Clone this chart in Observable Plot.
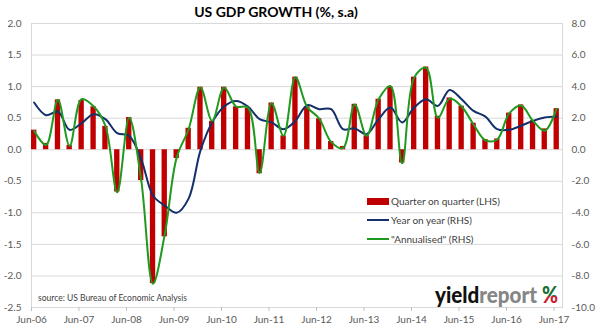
<!DOCTYPE html>
<html><head><meta charset="utf-8">
<script src="https://cdn.jsdelivr.net/npm/d3@7"></script>
<script src="https://cdn.jsdelivr.net/npm/@observablehq/plot@0.6"></script>
<style>
html,body{margin:0;padding:0;background:#fff;}
</style>
</head><body><div id="chart"></div>
<script>
const quarters = ["2006-06","2006-09","2006-12","2007-03","2007-06","2007-09","2007-12","2008-03","2008-06","2008-09",
  "2008-12","2009-03","2009-06","2009-09","2009-12","2010-03","2010-06","2010-09","2010-12","2011-03",
  "2011-06","2011-09","2011-12","2012-03","2012-06","2012-09","2012-12","2013-03","2013-06","2013-09",
  "2013-12","2014-03","2014-06","2014-09","2014-12","2015-03","2015-06","2015-09","2015-12","2016-03",
  "2016-06","2016-09","2016-12","2017-03","2017-06"];
const qoq = [0.31,0.10,0.79,0.07,0.78,0.68,0.37,-0.67,0.51,-0.49,
  -2.12,-1.38,-0.14,0.34,0.99,0.45,0.99,0.68,0.66,-0.38,
  0.74,0.22,1.15,0.68,0.49,0.13,0.05,0.72,0.22,0.80,
  0.99,-0.21,1.15,1.31,0.53,0.82,0.69,0.42,0.16,0.17,
  0.58,0.71,0.46,0.33,0.65];
const yoy = [2.99,2.19,2.42,1.26,1.68,2.25,1.94,1.05,0.88,-0.59,
  -2.9,-3.54,-4.0,-3.1,-0.06,1.73,2.74,3.09,2.74,1.94,
  1.73,1.3,1.83,2.82,2.57,2.57,1.3,1.35,0.99,1.94,
  2.67,1.73,2.67,3.2,2.78,3.79,3.2,2.46,2.1,1.3,
  1.26,1.52,1.83,2.04,2.1];
const annualised = [1.2,0.3,3.16,0.25,3.2,2.75,1.52,-2.7,2.02,-1.9,
  -8.5,-5.4,-0.5,1.3,3.94,1.83,3.94,2.74,2.67,-1.47,
  2.95,0.88,4.6,2.7,1.98,0.5,0.1,2.86,0.88,3.2,
  4.04,-0.86,4.57,5.2,2.02,3.24,2.74,1.6,0.6,0.65,
  2.3,2.8,1.83,1.2,2.6];
const leftTicks = [-2.5,-2.0,-1.5,-1.0,-0.5,0.0,0.5,1.0,1.5,2.0];
const rightFactor = 4; // RHS scale = 4 x LHS scale (8.0 .. -10.0)
const xTickLabels = ["Jun-06","Jun-07","Jun-08","Jun-09","Jun-10","Jun-11","Jun-12","Jun-13","Jun-14","Jun-15","Jun-16","Jun-17"];
const legendLabels = ["Quarter on quarter (LHS)","Year on year (RHS)","\"Annualised\" (RHS)"];
const titleText = "US GDP GROWTH (%, s.a)";
const sourceText = "source: US Bureau of Economic Analysis";

const colBar = "#c00000", colYoy = "#13306a", colAnn = "#1f9a1f";

const parseQ = d3.utcParse("%Y-%m");
const parseTick = d3.utcParse("%b-%y");
const data = quarters.map((q, i) => ({date: parseQ(q), qoq: qoq[i], yoy: yoy[i], ann: annualised[i]}));
const xTicks = xTickLabels.map(parseTick);
const mid = d => d3.utcDay.offset(d.date, 20);

const chart = Plot.plot({
  width: 602, height: 329,
  marginLeft: 31, marginRight: 40, marginTop: 23, marginBottom: 22,
  style: {fontFamily: "Lato, 'Open Sans', sans-serif", fontSize: "10px", color: "#595959", background: "#fff", overflow: "visible"},
  x: {type: "utc", domain: [parseQ("2006-06"), d3.utcDay.offset(parseQ("2017-08"), 4)]},
  y: {domain: [-2.5, 2.0]},
  marks: [
    Plot.ruleY(leftTicks, {stroke: "#d9d9d9", strokeWidth: 1}),
    Plot.frame({stroke: "#d9d9d9"}),
    Plot.rect(data, {x1: "date", x2: d => d3.utcDay.offset(d.date, 41), y1: 0, y2: "qoq", fill: colBar}),
    Plot.line(data, {x: mid, y: d => d.yoy / rightFactor, stroke: colYoy, strokeWidth: 2, curve: "catmull-rom"}),
    Plot.line(data, {x: mid, y: d => d.ann / rightFactor, stroke: colAnn, strokeWidth: 2, curve: "catmull-rom"}),
    Plot.axisY(leftTicks, {anchor: "left", label: null, tickSize: 0, tickPadding: 10, tickFormat: d => d.toFixed(1)}),
    Plot.axisY(leftTicks, {anchor: "right", label: null, tickSize: 0, tickPadding: 9, tickFormat: d => (d * rightFactor).toFixed(1)}),
    Plot.axisX(xTicks, {anchor: "bottom", label: null, tickSize: 4, tickPadding: 4, stroke: "#bfbfbf", tickFormat: d3.utcFormat("%b-%y")})
  ]
});
document.getElementById("chart").appendChild(chart);

const svg = d3.select(chart);
// title
svg.append("text").attr("x", 276).attr("y", 17).attr("text-anchor", "middle")
  .attr("fill", "#000").style("font", "bold 14px Lato, sans-serif").text(titleText);
// source
svg.append("text").attr("x", 38).attr("y", 301).attr("text-anchor", "start").attr("fill", "#404040")
  .style("font", "8.5px Lato, sans-serif").text(sourceText);
// legend
const lg = svg.append("g").attr("text-anchor", "start").style("font", "10px Lato, sans-serif").attr("fill", "#404040");
lg.append("rect").attr("x", 367).attr("y", 198).attr("width", 22).attr("height", 7).attr("fill", colBar);
lg.append("line").attr("x1", 367).attr("x2", 389).attr("y1", 220).attr("y2", 220).attr("stroke", colYoy).attr("stroke-width", 2);
lg.append("line").attr("x1", 367).attr("x2", 389).attr("y1", 239).attr("y2", 239).attr("stroke", colAnn).attr("stroke-width", 2);
[205, 223.5, 242.5].forEach((y, i) => lg.append("text").attr("x", 391).attr("y", y).text(legendLabels[i]));
// logo
const defs = svg.append("defs");
const gr = defs.append("linearGradient").attr("id", "pct").attr("x1", 0).attr("x2", 0).attr("y1", 0).attr("y2", 1);
gr.append("stop").attr("offset", "0%").attr("stop-color", "#1e6b35");
gr.append("stop").attr("offset", "55%").attr("stop-color", "#1e6b35");
gr.append("stop").attr("offset", "55%").attr("stop-color", "#c8202c");
gr.append("stop").attr("offset", "100%").attr("stop-color", "#c8202c");
const logo = svg.append("text").attr("x", 435).attr("y", 303).attr("text-anchor", "start")
  .attr("textLength", 102).attr("lengthAdjust", "spacingAndGlyphs")
  .style("font", "900 22px Lato, sans-serif");
logo.append("tspan").attr("fill", "#111").text("yield");
logo.append("tspan").attr("fill", "#858585").text("report");
svg.append("text").attr("x", 542).attr("y", 303).attr("text-anchor", "start").attr("textLength", 16).attr("lengthAdjust", "spacingAndGlyphs")
  .style("font", "900 22px Lato, sans-serif").attr("fill", "url(#pct)").text("%");
</script>
</body></html>
